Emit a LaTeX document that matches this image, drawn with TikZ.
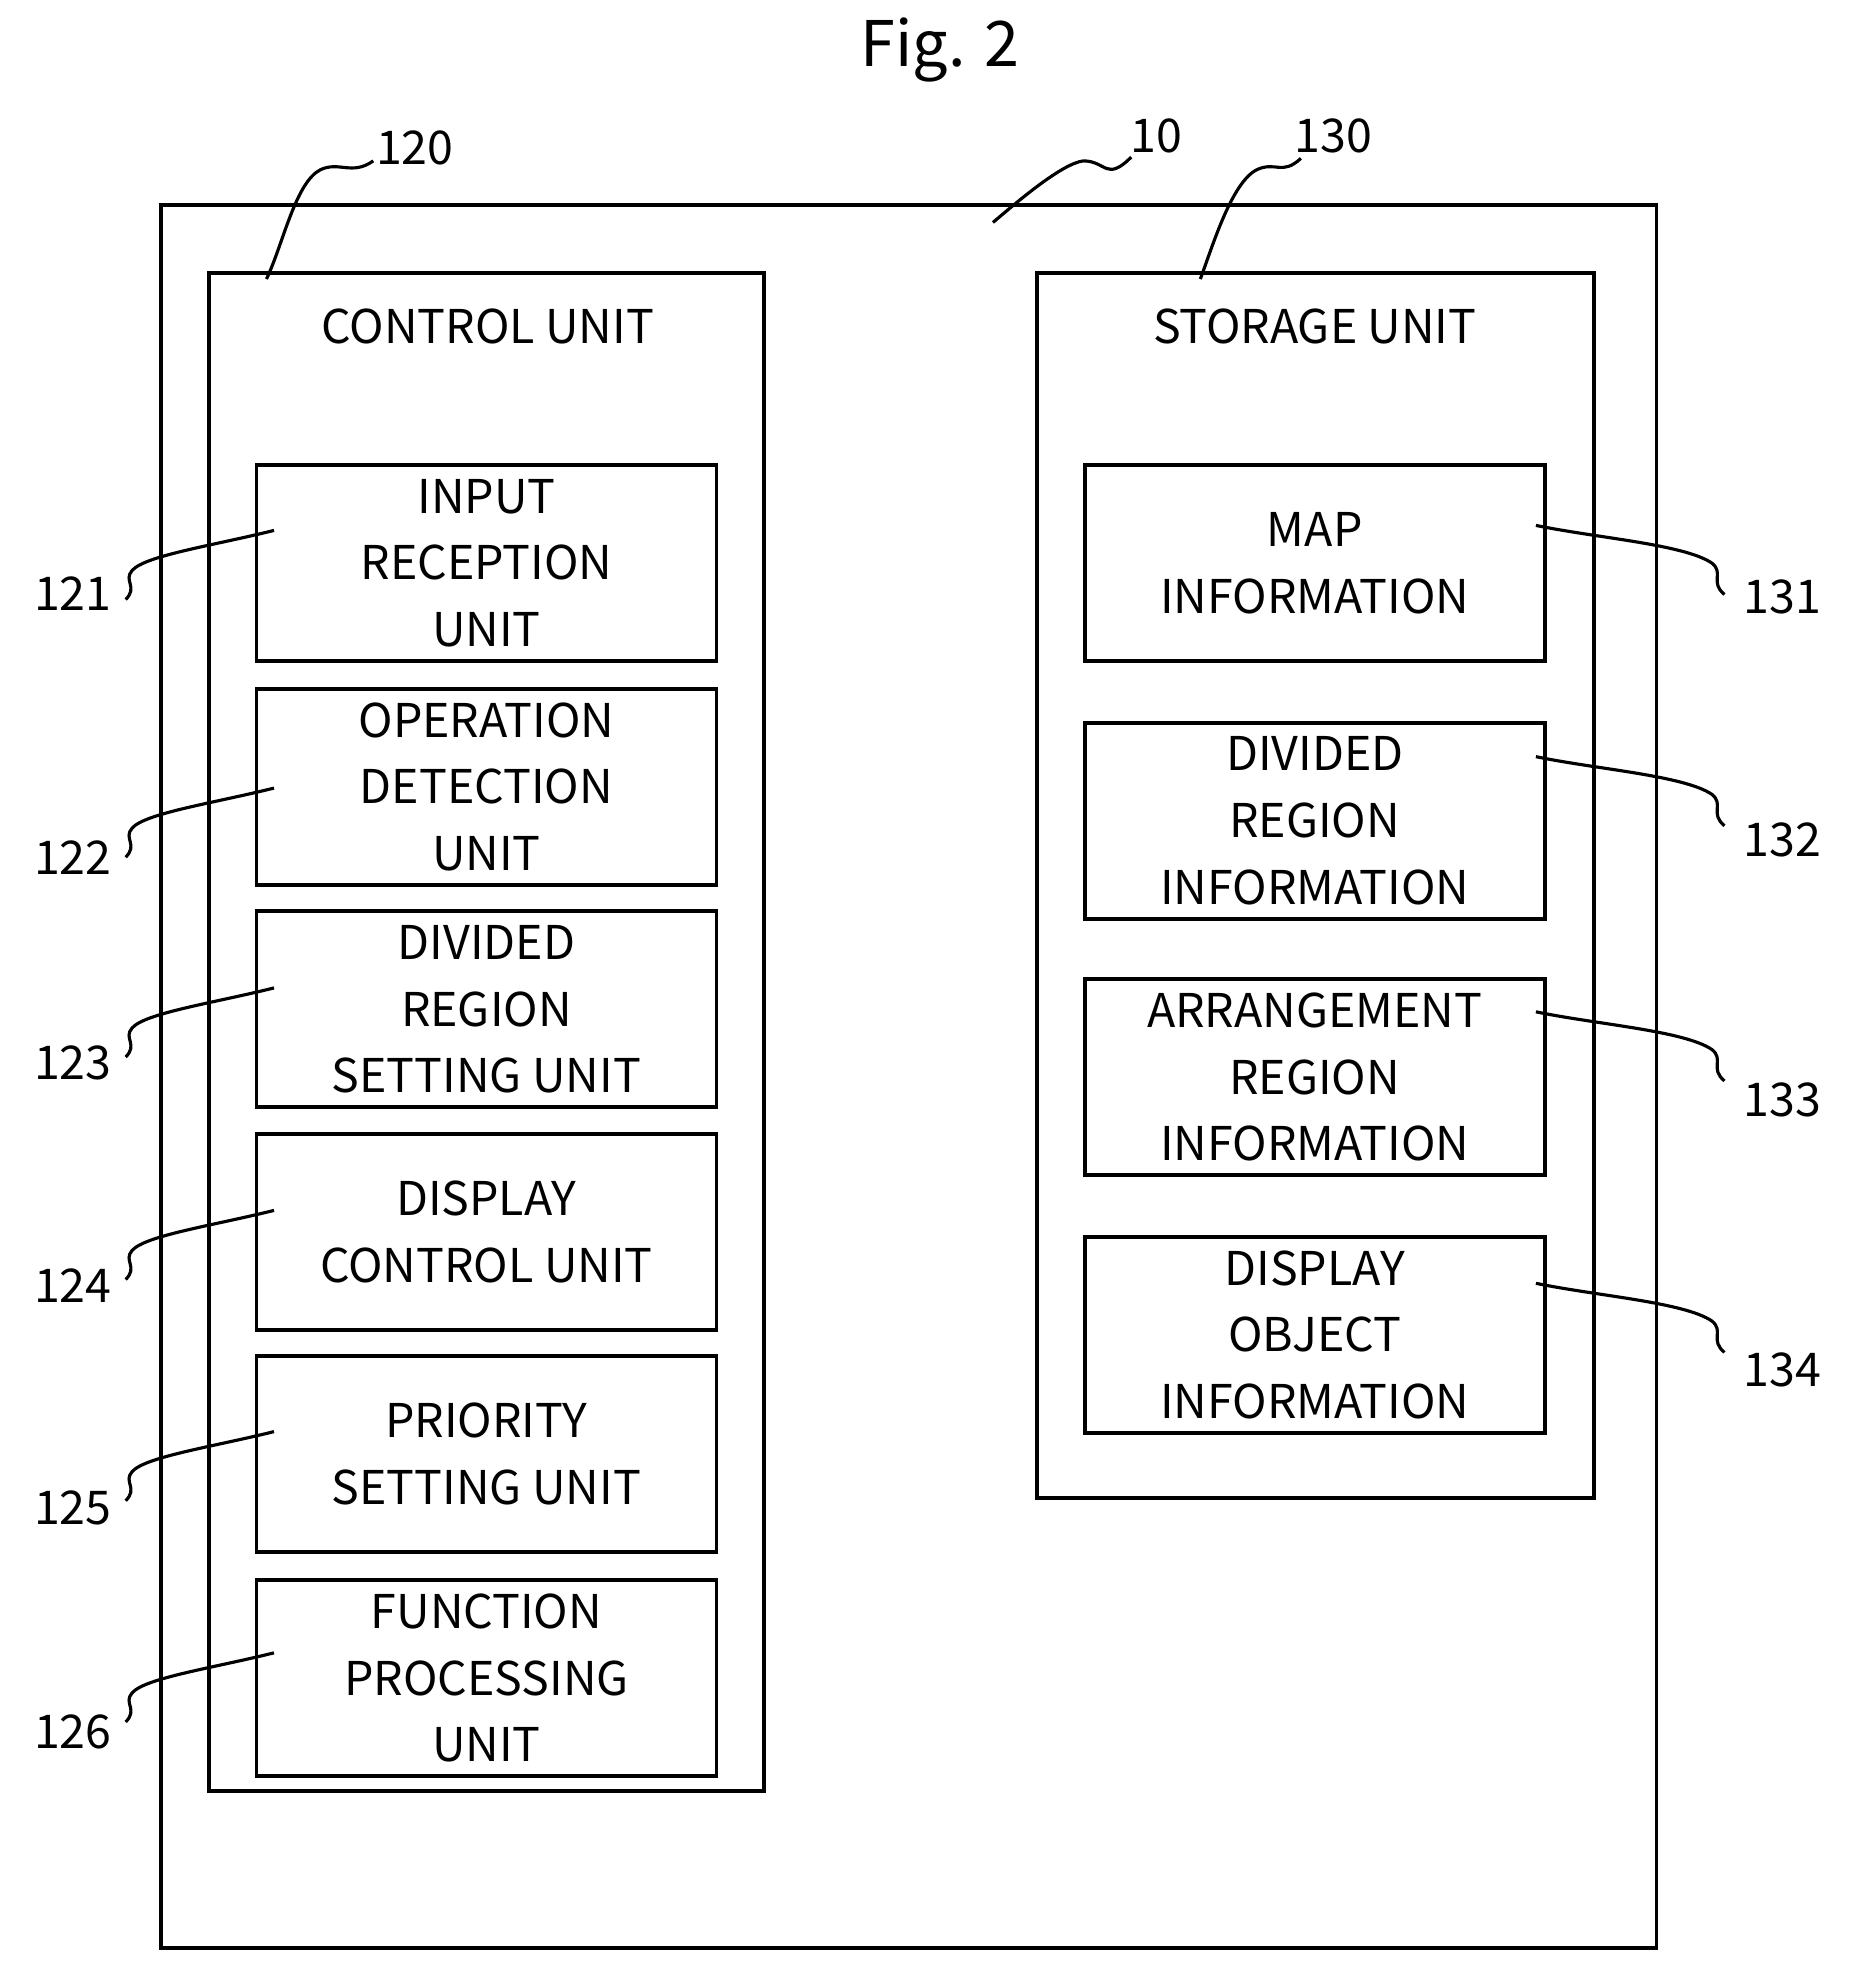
\documentclass[tikz,border=0pt]{standalone}
\usepackage{fontspec}
\setmainfont{Noto Sans CJK JP}
\begin{document}
\begin{tikzpicture}[x=1pt,y=-1pt,line width=3pt,
 box/.style={draw,minimum width=366pt,minimum height=156pt,align=center,inner sep=0pt,font=\fontsize{37}{53}\selectfont},
 lab/.style={font=\fontsize{37}{40}\selectfont,inner sep=0pt},
 ld/.style={line width=2.5pt}]
\useasboundingbox (0,0) rectangle (1472,1561);
\node[font=\fontsize{50}{55}\selectfont] (fig) at (748,40) {Fig. 2};
\draw (128,163) rectangle (1318,1550);
\draw (166,217) rectangle (608,1425);
\draw (825,217) rectangle (1268,1192);
\node[lab] (ct) at (388,260) {CONTROL UNIT};
\node[lab] (st) at (1046,260) {STORAGE UNIT};
\node[box] (b121) at (387,448) {INPUT\\RECEPTION\\UNIT};
\node[box] (b122) at (387,626) {OPERATION\\DETECTION\\UNIT};
\node[box] (b123) at (387,803) {DIVIDED\\REGION\\SETTING UNIT};
\node[box] (b124) at (387,980) {DISPLAY\\CONTROL UNIT};
\node[box] (b125) at (387,1157) {PRIORITY\\SETTING UNIT};
\node[box] (b126) at (387,1335) {FUNCTION\\PROCESSING\\UNIT};
\node[box] (b131) at (1046,448) {MAP\\INFORMATION};
\node[box] (b132) at (1046,653) {DIVIDED\\REGION\\INFORMATION};
\node[box] (b133) at (1046,857) {ARRANGEMENT\\REGION\\INFORMATION};
\node[box] (b134) at (1046,1062) {DISPLAY\\OBJECT\\INFORMATION};
% top labels
\node[lab] (l120) at (330,118) {120};
\node[lab] (l10) at (920,108) {10};
\node[lab] (l130) at (1061,108) {130};
\coordinate (s120) at (212,222);
\coordinate (s10) at (790,177);
\coordinate (s130) at (955,222);
\draw[ld] (s120) .. controls (225,195) and (235,145) .. (255,135) .. controls (270,128) and (280,140) .. (297,128);
\draw[ld] (s10) .. controls (810,160) and (845,130) .. (862,128) .. controls (880,128) and (880,145) .. (900,125);
\draw[ld] (s130) .. controls (965,195) and (980,145) .. (1000,135) .. controls (1015,128) and (1020,140) .. (1035,126);
% left labels
\foreach \n/\y/\ly in {121/422/472, 122/627/682, 123/786/846, 124/963/1023, 125/1139/1200, 126/1315/1378}{
 \coordinate (s\n) at (218,\y);
 \node[lab] (l\n) at (58,\ly) {\n};
 \draw[ld] (s\n) .. controls (170,\y+12) and (115,\y+20) .. (105,\y+32) .. controls (98,\y+40) and (110,\y+45) .. (100,\y+55);
}
\foreach \n/\y/\ly in {131/418/475, 132/602/668, 133/805/875, 134/1021/1090}{
 \coordinate (s\n) at (1222,\y);
 \node[lab] (l\n) at (1418,\ly) {\n};
 \draw[ld] (s\n) .. controls (1270,\y+10) and (1340,\y+15) .. (1362,\y+30) .. controls (1372,\y+38) and (1360,\y+45) .. (1372,\y+55);
}
\end{tikzpicture}
\end{document}
